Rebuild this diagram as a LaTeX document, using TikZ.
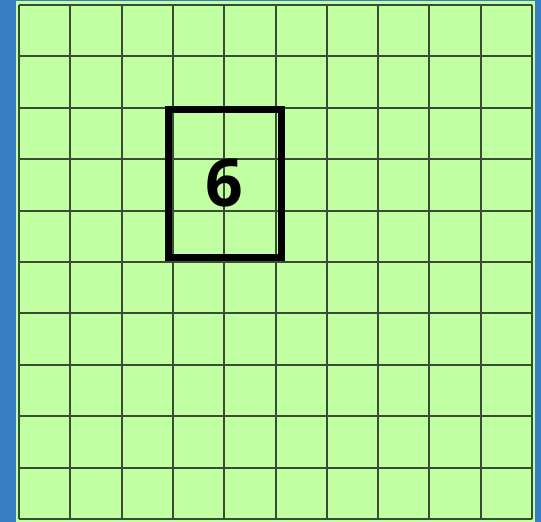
\documentclass[tikz,border=0pt]{standalone}
\usepackage{fontspec}
\setmainfont{Open Sans}
\definecolor{bgblue}{HTML}{3A7EC2}
\definecolor{cellgreen}{HTML}{C0FFA2}
\definecolor{gridline}{HTML}{3C4C34}
\tikzset{
  gridlines/.style={draw=gridline, line width=2pt},
  frame/.style={draw=black, line width=7pt},
  label/.style={font=\fontsize{66}{70}\selectfont\bfseries, text=black, inner sep=0pt}
}
\begin{document}
\begin{tikzpicture}[x=1pt,y=-1pt]
\useasboundingbox (0,0) rectangle (541,522);
\fill[bgblue] (0,0) rectangle (541,522);
\fill[cellgreen] (16,1) rectangle (535,522);
\foreach \i in {0,...,10} {
  \draw[gridlines] ({19+51.3*\i},5) -- ({19+51.3*\i},519);
  \draw[gridlines] (19,{5+51.4*\i}) -- (532,{5+51.4*\i});
}
\node[frame, minimum width=113pt, minimum height=148pt, inner sep=0pt] (box) at (224.5,183) {};
\node[label] (six) at (224,183) {6};
\end{tikzpicture}
\end{document}
